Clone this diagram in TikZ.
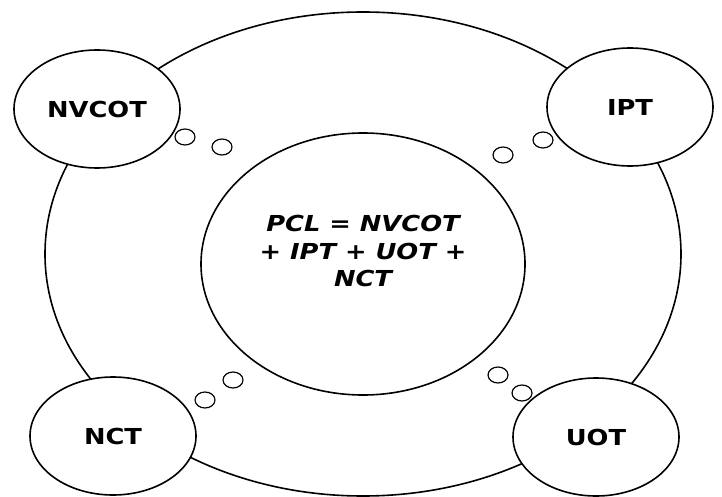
\documentclass[tikz,border=0pt]{standalone}
\usepackage{fontspec}
\setmainfont{DejaVu Sans}
\newfontfamily\blobfont[FakeStretch=1.17]{DejaVu Sans}
\usetikzlibrary{shapes.geometric}
\begin{document}
\begin{tikzpicture}[x=0.5pt,y=-0.5pt]
\useasboundingbox (0,0) rectangle (722,497);
\tikzstyle{blob} = [draw, ellipse, inner sep=0pt, line width=0.8pt, fill=white];
\tikzstyle{topic} = [blob, minimum width=83pt, minimum height=59pt, font=\blobfont\bfseries\fontsize{11}{13}\selectfont];
\tikzstyle{bubble} = [blob, minimum width=10pt, minimum height=8pt, line width=0.6pt];
\node[blob, minimum width=318pt, minimum height=242pt] (outer) at (363,254) {};
\node[blob, minimum width=162pt, minimum height=131pt] (pcl) at (363,264) {};
\node[align=center, font=\blobfont\bfseries\itshape\fontsize{11}{13.75}\selectfont] (pcltext) at (363,251) {PCL = NVCOT\\+ IPT + UOT +\\NCT};
%
\node[topic] (nvcot) at (97,109) {NVCOT};
\node[topic] (ipt) at (630,107) {IPT};
\node[topic] (nct) at (113,436) {NCT};
\node[topic] (uot) at (596,437) {UOT};
%
\node[bubble] (nvcot1) at (185,137) {};
\node[bubble] (nvcot2) at (222,147) {};
\node[bubble] (ipt1) at (543,140) {};
\node[bubble] (ipt2) at (503,155) {};
\node[bubble] (nct1) at (205,400) {};
\node[bubble] (nct2) at (233,380) {};
\node[bubble] (uot1) at (522,393) {};
\node[bubble] (uot2) at (498,375) {};
\end{tikzpicture}
\end{document}
